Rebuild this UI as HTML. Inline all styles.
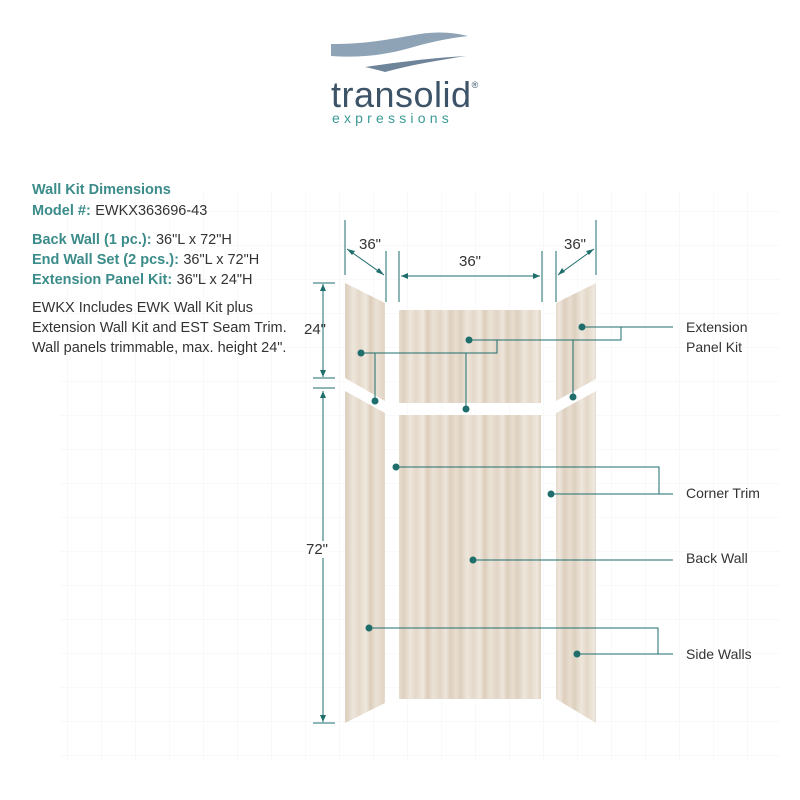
<!DOCTYPE html>
<html><head><meta charset="utf-8"><style>
html,body{margin:0;padding:0;background:#fff;}
body{width:800px;height:800px;position:relative;overflow:hidden;font-family:"Liberation Sans",sans-serif;}
.t{position:absolute;white-space:nowrap;}
.h{color:#3b8c8a;font-weight:bold;font-size:14.5px;}
.n{color:#333;font-size:14.5px;}
.lab{color:#333;font-size:14px;}
</style></head><body>
<svg width="800" height="800" style="position:absolute;left:0;top:0">
<defs>
<pattern id="grid" width="34" height="34" patternUnits="userSpaceOnUse" x="0" y="8">
<path d="M34 0V34M0 34H34" stroke="#f2f4f4" stroke-width="1" fill="none"/>
</pattern>
<linearGradient id="wood" x1="0" y1="0" x2="1" y2="0">
<stop offset="0" stop-color="#e8ddd0"/><stop offset="0.08" stop-color="#ddd0bf"/>
<stop offset="0.2" stop-color="#eee6dc"/><stop offset="0.3" stop-color="#e4d8c8"/>
<stop offset="0.42" stop-color="#efe8df"/><stop offset="0.5" stop-color="#dccdba"/>
<stop offset="0.6" stop-color="#ebe2d7"/><stop offset="0.72" stop-color="#e2d5c5"/>
<stop offset="0.82" stop-color="#eee6dc"/><stop offset="0.9" stop-color="#ddcfbe"/>
<stop offset="1" stop-color="#e8ddd0"/>
</linearGradient>
<pattern id="wp" width="57" height="400" patternUnits="userSpaceOnUse">
<rect width="57" height="400" fill="url(#wood)"/>
</pattern>
</defs>
<rect x="60" y="190" width="720" height="570" fill="url(#grid)"/>
<!-- logo -->
<path d="M331 44 C370 44 395 38 420 34 C440 31 455 33 468 36 C450 38 430 42 410 48 C385 55 360 58 331 56 Z" fill="#8fa3b6"/>
<path d="M365 67 C400 62 430 58 466 56 C440 60 410 65 385 72 C378 70 370 68 365 67 Z" fill="#6e8499"/>
<!-- panels -->
<g fill="url(#wp)">
<polygon points="345,283 385,303 385,401 345,378"/>
<polygon points="345,391 385,413 385,703 345,723"/>
<rect x="399" y="310" width="142" height="93"/>
<rect x="399" y="415" width="142" height="284"/>
<polygon points="556,303 596,283 596,379 556,401"/>
<polygon points="556,413 596,391 596,723 556,699"/>
</g>
<g stroke="#1f6e6c" stroke-width="1" fill="none">
<line x1="323" y1="284" x2="323" y2="377"/><line x1="313" y1="283" x2="335" y2="283"/><line x1="313" y1="378" x2="335" y2="378"/>
<line x1="323" y1="391" x2="323" y2="722"/><line x1="313" y1="388" x2="335" y2="388"/><line x1="313" y1="723" x2="335" y2="723"/>
<line x1="345" y1="220" x2="345" y2="275"/><line x1="386" y1="251" x2="386" y2="302"/>
<line x1="399" y1="251" x2="399" y2="302"/><line x1="542" y1="251" x2="542" y2="302"/>
<line x1="556" y1="251" x2="556" y2="302"/><line x1="596" y1="220" x2="596" y2="275"/>
<line x1="347" y1="249" x2="384" y2="275"/><line x1="401" y1="276" x2="540" y2="276"/><line x1="558" y1="275" x2="594" y2="249"/>
<path d="M582 327H673M621 327V340H469M497 340V353H361M375 353V401M466 353V409M573 340V397"/>
<path d="M396 467H659V494H673M551 494H659"/>
<path d="M473 560H673"/>
<path d="M369 628H658V654H673M577 654H658"/>
</g>
<g fill="#1f6e6c">
<polygon points="323,284 320,291 326,291"/><polygon points="323,377 320,370 326,370"/>
<polygon points="323,391 320,398 326,398"/><polygon points="323,722 320,715 326,715"/>
<polygon points="401,276 408,273 408,279"/><polygon points="540,276 533,273 533,279"/>
<polygon points="347,249 352,255 355,251"/><polygon points="384,275 376,272 379,268"/>
<polygon points="558,275 562,268 565,272"/><polygon points="594,249 586,251 589,255"/>
<circle cx="582" cy="327" r="3.5"/><circle cx="469" cy="340" r="3.5"/><circle cx="361" cy="353" r="3.5"/>
<circle cx="375" cy="401" r="3.5"/><circle cx="466" cy="409" r="3.5"/><circle cx="573" cy="397" r="3.5"/>
<circle cx="396" cy="467" r="3.5"/><circle cx="551" cy="494" r="3.5"/><circle cx="473" cy="560" r="3.5"/>
<circle cx="369" cy="628" r="3.5"/><circle cx="577" cy="654" r="3.5"/>
</g>
</svg>
<div class="t" style="left:331px;top:74px;font-size:36px;color:#3d5468;letter-spacing:0.5px">transolid<span style="font-size:9px;vertical-align:top;position:relative;top:6px">®</span></div>
<div class="t" style="left:332px;top:110px;font-size:14px;color:#3b9a94;letter-spacing:4.2px">expressions</div>

<div class="t h" style="left:32px;top:182px">Wall Kit Dimensions</div>
<div class="t" style="left:32px;top:202px"><span class="h">Model #:</span> <span class="n">EWKX363696-43</span></div>
<div class="t" style="left:32px;top:231px"><span class="h">Back Wall (1 pc.):</span> <span class="n">36"L x 72"H</span></div>
<div class="t" style="left:32px;top:251px"><span class="h">End Wall Set (2 pcs.):</span> <span class="n">36"L x 72"H</span></div>
<div class="t" style="left:32px;top:271px"><span class="h">Extension Panel Kit:</span> <span class="n">36"L x 24"H</span></div>
<div class="t n" style="left:32px;top:300px">EWKX Includes EWK Wall Kit plus</div>
<div class="t n" style="left:32px;top:320px">Extension Wall Kit and EST Seam Trim.</div>
<div class="t n" style="left:32px;top:340px">Wall panels trimmable, max. height 24".</div>

<div class="t lab" style="left:359px;top:236px;font-size:15px">36"</div>
<div class="t lab" style="left:459px;top:253px;font-size:15px">36"</div>
<div class="t lab" style="left:564px;top:236px;font-size:15px">36"</div>
<div class="t lab" style="left:304px;top:321px;font-size:15px">24"</div>
<div class="t lab" style="left:306px;top:541px;font-size:15px;background:#fff">72"</div>

<div class="t lab" style="left:686px;top:319px">Extension</div>
<div class="t lab" style="left:686px;top:339px">Panel Kit</div>
<div class="t lab" style="left:686px;top:485px">Corner Trim</div>
<div class="t lab" style="left:686px;top:550px">Back Wall</div>
<div class="t lab" style="left:686px;top:646px">Side Walls</div>
</body></html>
